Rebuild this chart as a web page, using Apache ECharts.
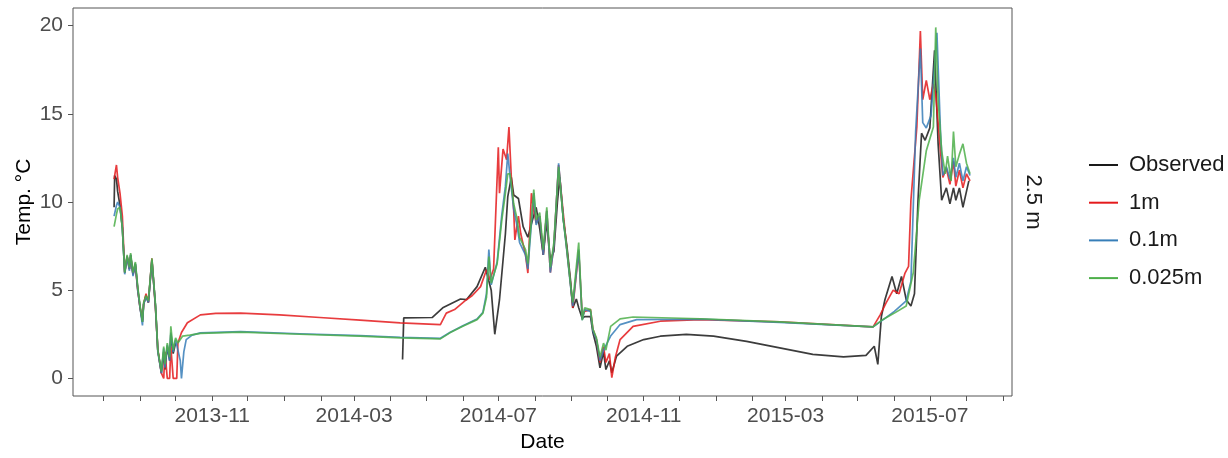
<!DOCTYPE html>
<html>
<head>
<meta charset="UTF-8">
<title>Temp 2.5 m</title>
<script src="https://cdn.jsdelivr.net/npm/echarts@6/dist/echarts.min.js"></script>
<style>
    html, body { margin: 0; padding: 0; background: #fff; }
    #chart { width: 1228px; height: 458px; }
</style>
</head>
<body>
<div id="chart"></div>
<script>
    // series names and colours
    var seriesNames = ['Observed', '1m', '0.1m', '0.025m'];
    var seriesColors = ['#1a1a1a', '#E41A1C', '#377EB8', '#4DAF4A'];

    // ticks: monthly minor ticks, labels every 4 months
    var monthTicks = ['2013-08-01', '2013-09-01', '2013-10-01', '2013-11-01', '2013-12-01',
        '2014-01-01', '2014-02-01', '2014-03-01', '2014-04-01', '2014-05-01', '2014-06-01',
        '2014-07-01', '2014-08-01', '2014-09-01', '2014-10-01', '2014-11-01', '2014-12-01',
        '2015-01-01', '2015-02-01', '2015-03-01', '2015-04-01', '2015-05-01', '2015-06-01',
        '2015-07-01', '2015-08-01', '2015-09-01'];
    var labelTicks = ['2013-11-01', '2014-03-01', '2014-07-01', '2014-11-01', '2015-03-01', '2015-07-01'];
    var yTicks = [0, 5, 10, 15, 20];

    // observed temperature (gap between autumn 2013 and april 2014)
    var observed = [
        ['2013-08-10', 9.7], ['2013-08-10 12:00', 11.5], ['2013-08-12', 11.3], ['2013-08-13', 10.6],
        ['2013-08-15', 9.8], ['2013-08-17', 8.5], ['2013-08-19', 6.0], ['2013-08-21', 6.9],
        ['2013-08-23', 6.2], ['2013-08-24', 7.0], ['2013-08-26', 5.9], ['2013-08-28', 6.5],
        ['2013-08-30', 5.1], ['2013-09-01', 4.0], ['2013-09-03', 3.2], ['2013-09-04', 4.2],
        ['2013-09-06', 4.7], ['2013-09-08', 4.3], ['2013-09-11', 6.7], ['2013-09-14', 4.1],
        ['2013-09-16', 1.6], ['2013-09-19', 0.3], ['2013-09-21', 1.5], ['2013-09-22', 0.5],
        ['2013-09-24', 1.8], ['2013-09-26', 1.0], ['2013-09-27', 2.5], ['2013-09-29', 1.4],
        ['2013-10-01', 2.0], ['2013-10-02', null],
        ['2014-04-11', 1.07], ['2014-04-12', 3.43], ['2014-05-06', 3.45], ['2014-05-15', 4.0],
        ['2014-05-30', 4.5], ['2014-06-04', 4.46], ['2014-06-13', 5.2], ['2014-06-20', 6.3],
        ['2014-06-25', 5.0], ['2014-06-28', 2.5], ['2014-07-02', 4.46], ['2014-07-07', 8.2],
        ['2014-07-09', 10.3], ['2014-07-12', 11.4], ['2014-07-14', 10.4], ['2014-07-18', 10.2],
        ['2014-07-22', 8.6], ['2014-07-26', 8.0], ['2014-07-30', 9.0], ['2014-08-02', 9.7],
        ['2014-08-05', 8.5], ['2014-08-08', 7.0], ['2014-08-11', 8.9], ['2014-08-14', 6.7],
        ['2014-08-17', 7.2], ['2014-08-20', 10.0], ['2014-08-22', 11.4], ['2014-08-25', 9.0],
        ['2014-08-28', 7.5], ['2014-08-31', 5.6], ['2014-09-02', 4.0], ['2014-09-05', 4.5],
        ['2014-09-07', 4.0], ['2014-09-10', 3.4], ['2014-09-12', 3.5], ['2014-09-17', 3.5],
        ['2014-09-19', 2.6], ['2014-09-22', 1.8], ['2014-09-25', 0.6], ['2014-09-28', 1.5],
        ['2014-09-30', 0.5], ['2014-10-03', 1.0], ['2014-10-05', 0.32], ['2014-10-09', 1.26],
        ['2014-10-18', 1.82], ['2014-11-01', 2.2], ['2014-11-15', 2.39], ['2014-12-07', 2.49],
        ['2014-12-30', 2.39], ['2015-01-27', 2.1], ['2015-02-24', 1.73], ['2015-03-24', 1.36],
        ['2015-04-19', 1.22], ['2015-05-08', 1.3], ['2015-05-15', 1.82], ['2015-05-18', 0.79],
        ['2015-05-21', 3.5], ['2015-05-24', 4.46], ['2015-05-30', 5.78], ['2015-06-03', 4.8],
        ['2015-06-07', 5.78], ['2015-06-11', 4.46], ['2015-06-15', 4.1], ['2015-06-18', 4.8],
        ['2015-06-21', 10.1], ['2015-06-24', 13.9], ['2015-06-27', 13.5], ['2015-07-01', 14.2],
        ['2015-07-05', 18.6], ['2015-07-08', 13.3], ['2015-07-11', 10.1], ['2015-07-15', 10.8],
        ['2015-07-18', 9.9], ['2015-07-21', 10.8], ['2015-07-23', 10.1], ['2015-07-26', 10.8],
        ['2015-07-29', 9.7], ['2015-08-01', 10.6], ['2015-08-03', 11.2]
    ];

    var model1m = [
        ['2013-08-10', 11.3], ['2013-08-12', 12.1], ['2013-08-13', 11.4], ['2013-08-15', 10.5],
        ['2013-08-17', 9.2], ['2013-08-19', 6.0], ['2013-08-21', 6.9], ['2013-08-23', 6.2],
        ['2013-08-24', 6.9], ['2013-08-26', 5.9], ['2013-08-28', 6.4], ['2013-08-30', 5.0],
        ['2013-09-01', 4.0], ['2013-09-03', 3.3], ['2013-09-04', 4.2], ['2013-09-06', 4.8],
        ['2013-09-08', 4.3], ['2013-09-11', 6.8], ['2013-09-14', 4.0], ['2013-09-16', 1.6],
        ['2013-09-19', 0.3], ['2013-09-21', 0.0], ['2013-09-22', 1.5], ['2013-09-24', 0.0],
        ['2013-09-26', 0.0], ['2013-09-27', 1.8], ['2013-09-29', 0.0], ['2013-10-02', 0.0],
        ['2013-10-03', 2.0], ['2013-10-06', 2.6], ['2013-10-11', 3.15], ['2013-10-22', 3.6],
        ['2013-11-04', 3.68], ['2013-11-25', 3.7], ['2013-12-28', 3.6], ['2014-01-31', 3.45],
        ['2014-03-06', 3.3], ['2014-04-09', 3.15], ['2014-05-13', 3.05], ['2014-05-18', 3.7],
        ['2014-05-25', 3.9], ['2014-06-04', 4.46], ['2014-06-09', 4.7], ['2014-06-16', 5.2],
        ['2014-06-21', 6.16], ['2014-06-24', 5.6], ['2014-06-27', 6.2], ['2014-07-01', 13.1],
        ['2014-07-02', 10.5], ['2014-07-05', 13.0], ['2014-07-08', 12.4], ['2014-07-10', 14.25],
        ['2014-07-12', 11.4], ['2014-07-14', 9.55], ['2014-07-15', 7.85], ['2014-07-18', 9.2],
        ['2014-07-20', 8.2], ['2014-07-24', 7.0], ['2014-07-26', 5.97], ['2014-07-29', 10.5],
        ['2014-07-31', 9.5], ['2014-08-02', 8.8], ['2014-08-05', 9.2], ['2014-08-08', 7.0],
        ['2014-08-11', 9.5], ['2014-08-14', 6.0], ['2014-08-17', 7.5], ['2014-08-20', 11.0],
        ['2014-08-21', 12.1], ['2014-08-24', 10.0], ['2014-08-28', 7.3], ['2014-08-31', 5.4],
        ['2014-09-02', 4.0], ['2014-09-07', 7.2], ['2014-09-10', 3.5], ['2014-09-12', 3.8],
        ['2014-09-17', 3.9], ['2014-09-19', 2.8], ['2014-09-22', 2.2], ['2014-09-25', 0.9],
        ['2014-09-28', 1.8], ['2014-09-30', 0.9], ['2014-10-03', 1.4], ['2014-10-05', 0.04],
        ['2014-10-08', 1.2], ['2014-10-12', 2.2], ['2014-10-23', 2.95], ['2014-11-15', 3.24],
        ['2014-12-19', 3.33], ['2015-02-24', 3.2], ['2015-05-14', 2.92], ['2015-05-20', 3.6],
        ['2015-05-25', 4.28], ['2015-05-31', 5.0], ['2015-06-05', 4.8], ['2015-06-10', 5.97],
        ['2015-06-13', 6.35], ['2015-06-15', 10.1], ['2015-06-20', 14.25], ['2015-06-23', 19.7],
        ['2015-06-25', 15.8], ['2015-06-28', 16.9], ['2015-07-01', 15.8], ['2015-07-04', 16.7],
        ['2015-07-06', 16.1], ['2015-07-10', 12.9], ['2015-07-12', 11.4], ['2015-07-15', 11.9],
        ['2015-07-18', 11.0], ['2015-07-21', 12.3], ['2015-07-23', 10.9], ['2015-07-26', 11.8],
        ['2015-07-29', 10.8], ['2015-08-01', 11.6], ['2015-08-04', 11.2]
    ];

    var model01m = [
        ['2013-08-10', 9.2], ['2013-08-12', 9.8], ['2013-08-13', 10.0], ['2013-08-15', 9.7],
        ['2013-08-17', 8.6], ['2013-08-19', 5.9], ['2013-08-21', 6.9], ['2013-08-23', 6.1],
        ['2013-08-24', 7.0], ['2013-08-26', 5.8], ['2013-08-28', 6.5], ['2013-08-30', 5.0],
        ['2013-09-01', 4.0], ['2013-09-03', 3.0], ['2013-09-04', 4.2], ['2013-09-06', 4.6],
        ['2013-09-08', 4.3], ['2013-09-11', 6.7], ['2013-09-14', 4.1], ['2013-09-16', 1.5],
        ['2013-09-19', 0.3], ['2013-09-21', 1.7], ['2013-09-22', 0.6], ['2013-09-24', 1.9],
        ['2013-09-26', 1.0], ['2013-09-27', 2.6], ['2013-09-29', 1.5], ['2013-10-01', 2.2],
        ['2013-10-03', 1.6], ['2013-10-05', 1.0], ['2013-10-06', 0.0], ['2013-10-08', 1.5],
        ['2013-10-10', 2.2], ['2013-10-15', 2.45], ['2013-10-22', 2.58], ['2013-11-25', 2.65],
        ['2014-01-14', 2.53], ['2014-03-06', 2.42], ['2014-04-09', 2.33], ['2014-05-13', 2.27],
        ['2014-05-21', 2.6], ['2014-06-01', 2.98], ['2014-06-13', 3.36], ['2014-06-18', 3.75],
        ['2014-06-21', 4.8], ['2014-06-23', 7.3], ['2014-06-25', 5.3], ['2014-06-30', 6.6],
        ['2014-07-04', 9.3], ['2014-07-07', 10.9], ['2014-07-09', 12.75], ['2014-07-11', 11.4],
        ['2014-07-14', 9.6], ['2014-07-17', 8.6], ['2014-07-19', 7.7], ['2014-07-24', 7.0],
        ['2014-07-26', 6.2], ['2014-07-31', 10.5], ['2014-08-02', 8.7], ['2014-08-05', 9.2],
        ['2014-08-08', 7.0], ['2014-08-11', 9.5], ['2014-08-14', 6.0], ['2014-08-17', 7.5],
        ['2014-08-21', 12.2], ['2014-08-25', 9.0], ['2014-08-28', 7.2], ['2014-08-31', 5.3],
        ['2014-09-02', 4.1], ['2014-09-07', 7.3], ['2014-09-10', 3.3], ['2014-09-12', 3.9],
        ['2014-09-17', 3.8], ['2014-09-19', 2.7], ['2014-09-22', 2.2], ['2014-09-25', 1.0],
        ['2014-09-28', 1.6], ['2014-10-04', 2.4], ['2014-10-12', 3.05], ['2014-10-26', 3.33],
        ['2014-12-19', 3.36], ['2015-02-24', 3.18], ['2015-05-14', 2.92], ['2015-05-22', 3.3],
        ['2015-06-01', 3.8], ['2015-06-11', 4.4], ['2015-06-15', 5.5], ['2015-06-19', 14.0],
        ['2015-06-23', 18.7], ['2015-06-25', 14.5], ['2015-06-28', 14.2], ['2015-07-02', 14.9],
        ['2015-07-07', 19.6], ['2015-07-10', 14.0], ['2015-07-12', 11.5], ['2015-07-15', 12.0],
        ['2015-07-18', 11.3], ['2015-07-21', 12.5], ['2015-07-23', 11.4], ['2015-07-26', 12.2],
        ['2015-07-29', 11.2], ['2015-08-01', 12.0], ['2015-08-04', 11.5]
    ];

    var model0025m = [
        ['2013-08-10', 8.6], ['2013-08-12', 9.3], ['2013-08-13', 9.6], ['2013-08-15', 9.7],
        ['2013-08-17', 8.5], ['2013-08-19', 6.0], ['2013-08-21', 7.0], ['2013-08-23', 6.3],
        ['2013-08-24', 7.1], ['2013-08-26', 6.0], ['2013-08-28', 6.6], ['2013-08-30', 5.2],
        ['2013-09-01', 4.1], ['2013-09-03', 3.2], ['2013-09-04', 4.3], ['2013-09-06', 4.7],
        ['2013-09-08', 4.4], ['2013-09-11', 6.8], ['2013-09-14', 4.2], ['2013-09-16', 1.6],
        ['2013-09-19', 0.4], ['2013-09-21', 1.8], ['2013-09-22', 0.8], ['2013-09-24', 2.0],
        ['2013-09-26', 1.2], ['2013-09-27', 2.95], ['2013-09-29', 1.6], ['2013-10-01', 2.3],
        ['2013-10-03', 2.0], ['2013-10-07', 2.4], ['2013-10-13', 2.45], ['2013-10-22', 2.55],
        ['2013-11-25', 2.62], ['2014-01-14', 2.5], ['2014-03-06', 2.39], ['2014-04-09', 2.3],
        ['2014-05-13', 2.24], ['2014-05-21', 2.58], ['2014-06-01', 2.95], ['2014-06-13', 3.33],
        ['2014-06-18', 3.7], ['2014-06-21', 4.6], ['2014-06-23', 6.9], ['2014-06-25', 5.4],
        ['2014-06-30', 6.5], ['2014-07-04', 9.0], ['2014-07-07', 10.5], ['2014-07-09', 11.6],
        ['2014-07-11', 11.6], ['2014-07-14', 9.9], ['2014-07-17', 9.0], ['2014-07-19', 8.0],
        ['2014-07-24', 7.3], ['2014-07-26', 6.5], ['2014-07-31', 10.7], ['2014-08-02', 9.0],
        ['2014-08-05', 9.4], ['2014-08-08', 7.3], ['2014-08-11', 9.7], ['2014-08-14', 6.3],
        ['2014-08-17', 7.7], ['2014-08-21', 12.0], ['2014-08-25', 9.0], ['2014-08-28', 7.3],
        ['2014-08-31', 5.4], ['2014-09-02', 4.3], ['2014-09-07', 7.7], ['2014-09-10', 3.3],
        ['2014-09-12', 4.0], ['2014-09-17', 3.9], ['2014-09-19', 2.8], ['2014-09-22', 2.3],
        ['2014-09-25', 1.2], ['2014-09-28', 2.0], ['2014-09-30', 1.6], ['2014-10-04', 2.95],
        ['2014-10-12', 3.37], ['2014-10-23', 3.48], ['2014-12-19', 3.38], ['2015-02-24', 3.2],
        ['2015-05-14', 2.92], ['2015-05-22', 3.33], ['2015-06-01', 3.7], ['2015-06-11', 4.1],
        ['2015-06-17', 6.0], ['2015-06-22', 10.1], ['2015-06-28', 12.9], ['2015-07-04', 14.25],
        ['2015-07-06', 19.9], ['2015-07-08', 15.8], ['2015-07-11', 12.9], ['2015-07-14', 11.6],
        ['2015-07-16', 12.6], ['2015-07-19', 11.2], ['2015-07-21', 14.0], ['2015-07-23', 12.0],
        ['2015-07-26', 12.7], ['2015-07-29', 13.3], ['2015-08-01', 12.2], ['2015-08-04', 11.6]
    ];

    var seriesData = [observed, model1m, model01m, model0025m];

    // 'yyyy-MM-dd[ HH:mm]' -> timestamp (local time)
    function toTime(s) {
        var p = s.split(/[- :]/);
        return new Date(+p[0], +p[1] - 1, +p[2], +(p[3] || 0), +(p[4] || 0)).getTime();
    }
    function pad(n) { return n < 10 ? '0' + n : '' + n; }

    var FONT = 'Liberation Sans, Arial, Helvetica, sans-serif';

    var chart = echarts.init(document.getElementById('chart'), null, {renderer: 'canvas'});

    var option = {
        animation: false,
        backgroundColor: '#fff',
        grid: {
            left: 73, right: 216, top: 8, bottom: 62,
            outerBoundsMode: 'none',
            show: true, borderColor: '#555', borderWidth: 1, backgroundColor: 'transparent'
        },
        legend: {
            orient: 'vertical',
            left: 1084,
            top: 149,
            itemWidth: 29,
            itemHeight: 2,
            itemGap: 15.7,
            icon: 'rect',
            textStyle: { fontFamily: FONT, fontSize: 22, color: '#1a1a1a', padding: [0, 0, 0, 6] },
            data: seriesNames
        },
        xAxis: {
            type: 'value',
            min: toTime('2013-07-06 06:00'),
            max: toTime('2015-09-08 12:00'),
            name: 'Date',
            nameLocation: 'middle',
            nameGap: 36,
            nameMoveOverlap: false,
            nameTextStyle: { fontFamily: FONT, fontSize: 21, color: '#000' },
            axisLine: { show: false, onZero: false },
            splitLine: { show: false },
            axisTick: {
                show: true, length: 5, inside: false,
                lineStyle: { color: '#555', width: 1 },
                customValues: monthTicks.map(toTime)
            },
            axisLabel: {
                fontFamily: FONT, fontSize: 21, color: '#4d4d4d', margin: 10,
                customValues: labelTicks.map(toTime),
                formatter: function (v) {
                    var d = new Date(v);
                    return d.getFullYear() + '-' + pad(d.getMonth() + 1);
                }
            }
        },
        yAxis: {
            type: 'value',
            min: -1,
            max: 21,
            name: 'Temp. °C',
            nameLocation: 'middle',
            nameGap: 38,
            nameRotate: 90,
            nameMoveOverlap: false,
            nameTextStyle: { fontFamily: FONT, fontSize: 21, color: '#000' },
            axisLine: { show: false, onZero: false },
            splitLine: { show: false },
            axisTick: {
                show: true, length: 5,
                lineStyle: { color: '#555', width: 1 },
                customValues: yTicks
            },
            axisLabel: {
                fontFamily: FONT, fontSize: 21, color: '#4d4d4d', margin: 10,
                customValues: yTicks
            }
        },
        graphic: [{
            type: 'text',
            x: 1033,
            y: 202,
            rotation: -Math.PI / 2,
            style: {
                text: '2.5 m',
                font: '22px ' + FONT,
                fill: '#1a1a1a',
                align: 'center',
                verticalAlign: 'middle'
            }
        }],
        series: seriesNames.map(function (name, i) {
            return {
                name: name,
                type: 'line',
                data: seriesData[i].map(function (p) {
                    return [toTime(p[0]), p[1] === null ? '-' : p[1]];
                }),
                showSymbol: false,
                symbol: 'none',
                connectNulls: false,
                color: seriesColors[i],
                lineStyle: { width: 1.7, color: seriesColors[i], opacity: 0.85 },
                emphasis: { disabled: true }
            };
        })
    };

    chart.setOption(option);
</script>
</body>
</html>
